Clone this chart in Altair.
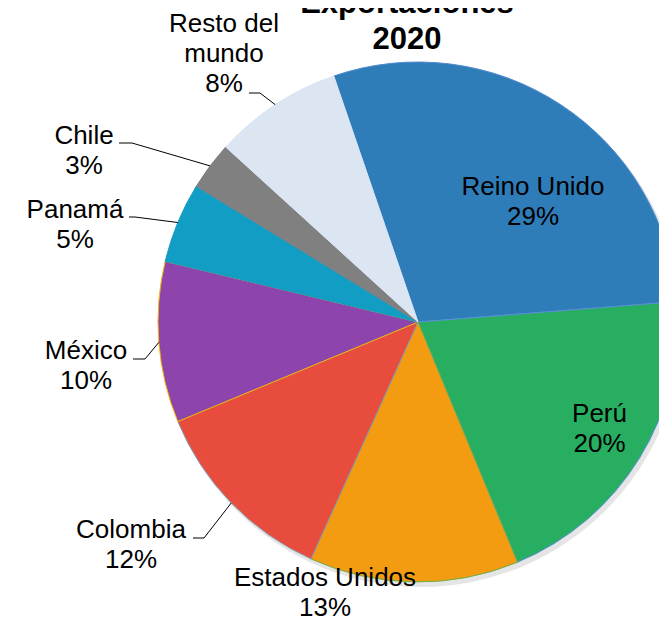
import numpy as np
import pandas as pd
import altair as alt

# ---------------- data ----------------
countries = ["Reino Unido", "Perú", "Estados Unidos", "Colombia",
             "México", "Panamá", "Chile", "Resto del mundo"]
display_names = ["Reino Unido", "Perú", "Estados Unidos", "Colombia",
                 "México", "Panamá", "Chile", "Resto del\nmundo"]
shares = [29, 20, 13, 12, 10, 5, 3, 8]
title_lines = ["Exportaciones", "2020"]

# ---------------- style / layout ----------------
fill_colors = ["#2E7DB8", "#27AE60", "#F39C12", "#E74C3C",
               "#8E44AD", "#119DC4", "#808080", "#DCE6F3"]
stroke_colors = ["#4F8BD0", "#5B8FD9", "#6DAE45", "#8A9BB0",
                 "#F5B400", "#119DC4", "#808080", "#DCE6F3"]
CX, CY = 410, 314          # pie centre inside the view (px)
R = 260                    # pie radius (px)
START_DEG = -18.9          # angle where the first slice starts
FONT = "Liberation Sans"
LINE_H = 30
# label block centres, offset from pie centre (px)
label_offsets = {
    "Reino Unido": (115, -120), "Perú": (181.5, 107),
    "Estados Unidos": (-93, 271), "Colombia": (-287, 223),
    "México": (-332, 44), "Panamá": (-343, -97.5),
    "Chile": (-334, -171), "Resto del mundo": (-194, -268),
}
# leader lines: (elbow, end) offsets relative to the label centre
leaders = {
    "Resto del mundo": ((36, 39), (25, 39)),
    "Chile": ((48, -8), (35, -8)),
    "Panamá": ((60, -7.5), (54, -7.5)),
    "México": ((59, -7), (47, -7)),
    "Colombia": ((73, -7), (62, -7)),
}

total = float(sum(shares))
labels_txt = [f"{n}\n{s}%" for n, s in zip(display_names, shares)]
df = pd.DataFrame({
    "country": countries,
    "share": shares,
    "idx": list(range(len(countries))),
    "label": labels_txt,
})
df["lx"] = [CX + label_offsets[c][0] for c in countries]
# first line is drawn at y; shift so the whole block is centred
df["ly"] = [CY + label_offsets[c][1] - (t.count("\n")) * LINE_H / 2
            for c, t in zip(countries, labels_txt)]

cum = np.cumsum(shares)
mid_deg = {c: START_DEG + (cm - s / 2) / total * 360
           for c, s, cm in zip(countries, shares, cum)}

rows = []
for c, (elbow, end) in leaders.items():
    a = np.deg2rad(mid_deg[c])
    lx, ly = CX + label_offsets[c][0], CY + label_offsets[c][1]
    rows.append({"country": c, "seq": 0, "x": CX + R * np.sin(a), "y": CY - R * np.cos(a)})
    rows.append({"country": c, "seq": 1, "x": lx + elbow[0], "y": ly + elbow[1]})
    rows.append({"country": c, "seq": 2, "x": lx + end[0], "y": ly + end[1]})
lead_df = pd.DataFrame(rows)

start = np.deg2rad(START_DEG)
one = pd.DataFrame({"k": [0]})

shadow = alt.Chart(one).mark_arc(
    outerRadius=R + 1, theta=0, theta2=2 * np.pi, color="#000000", opacity=0.10
).encode(x=alt.value(CX + 3), y=alt.value(CY + 4))

pie = alt.Chart(df).mark_arc(outerRadius=R, strokeWidth=1).encode(
    theta=alt.Theta("share:Q", stack=True,
                    scale=alt.Scale(domain=[0, total], range=[start, start + 2 * np.pi])),
    order=alt.Order("idx:Q"),
    color=alt.Color("country:N", scale=alt.Scale(domain=countries, range=fill_colors), legend=None),
    stroke=alt.Stroke("country:N", scale=alt.Scale(domain=countries, range=stroke_colors), legend=None),
    x=alt.value(CX), y=alt.value(CY),
)

lead = alt.Chart(lead_df).mark_line(color="#000000", strokeWidth=1).encode(
    x=alt.X("x:Q", scale=None, axis=None),
    y=alt.Y("y:Q", scale=None, axis=None),
    detail="country:N",
    order="seq:Q",
)

labels = alt.Chart(df).mark_text(
    font=FONT, fontSize=26, color="#000000", align="center",
    baseline="middle", lineBreak="\n", lineHeight=LINE_H,
).encode(
    x=alt.X("lx:Q", scale=None, axis=None),
    y=alt.Y("ly:Q", scale=None, axis=None),
    text="label:N",
)

title = alt.Chart(one).mark_text(
    font=FONT, fontSize=31, fontWeight="bold", color="#000000",
    align="center", baseline="alphabetic", lineHeight=36,
).encode(x=alt.value(399), y=alt.value(4.7), text=alt.value(title_lines))

chart = alt.layer(shadow, pie, lead, labels, title).properties(
    width=651, height=613,
    autosize=alt.AutoSizeParams(type="none"),
    padding=0,
).configure_view(stroke=None)

chart.save("out.html", embed_options={"renderer": "svg", "actions": False})
